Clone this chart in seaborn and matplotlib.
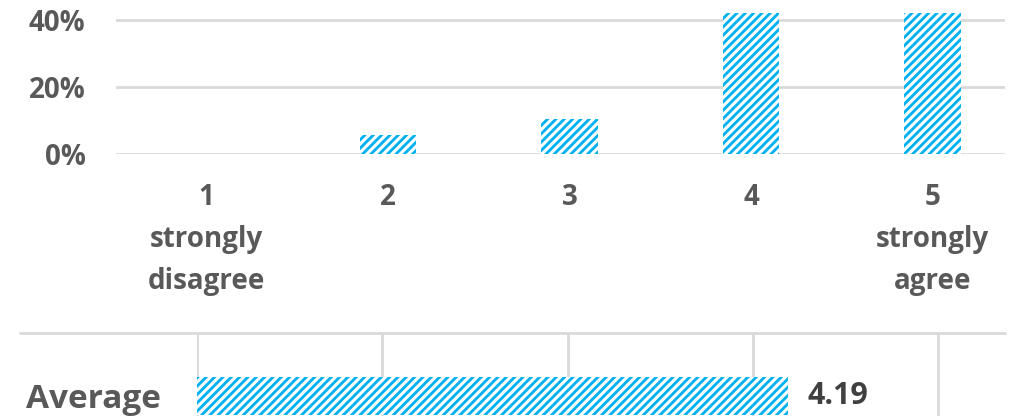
import matplotlib
matplotlib.use("Agg")
import matplotlib.pyplot as plt
import seaborn as sns
import pandas as pd
from matplotlib.lines import Line2D

# survey answers, share of respondents per score
scores = ["1\nstrongly\ndisagree", "2", "3", "4", "5\nstrongly\nagree"]
shares = [0.0, 5.8, 10.5, 42.2, 42.2]
avg_label = ["Average"]
avg_value = [4.19]
pct_ticks = [0, 20, 40]
avg_ticks = [1, 2, 3, 4, 5]

blue = "#00B0F0"
grid_c = "#D9D9D9"
text_c = "#595959"

sns.set_theme(style="white")
plt.rcParams["font.family"] = ["Open Sans", "DejaVu Sans"]
plt.rcParams["hatch.linewidth"] = 2.0

W, H = 1023, 416
fig = plt.figure(figsize=(W / 100, H / 100), dpi=100)

def box(x0, y0, x1, y1):
    # pixel box (top-left origin) -> figure fraction
    return [x0 / W, 1 - y1 / H, (x1 - x0) / W, (y1 - y0) / H]

# ---- distribution bars ----
ax = fig.add_axes(box(116, 3.25, 1005, 154))
df = pd.DataFrame({"score": scores, "share": shares})
sns.barplot(data=df, x="score", y="share", ax=ax, color="white", width=0.31,
            saturation=1)
for p in ax.patches:
    p.set_hatch("////")
    p.set_edgecolor(blue)
    p.set_linewidth(0)
    p.set_clip_on(False)
ax.set_ylim(0, 45)
ax.set_xlim(-0.5, 4.4)
ax.set_yticks(pct_ticks)
ax.set_yticklabels([f"{t}%" for t in pct_ticks], fontsize=20, fontweight="bold",
                   color=text_c)
for t in pct_ticks:
    ax.axhline(t, color=grid_c, lw=2, zorder=0)
ax.set_xticks(range(len(scores)))
ax.set_xticklabels(scores, fontsize=20, fontweight="bold", color=text_c,
                   linespacing=1.58)
ax.tick_params(axis="both", length=0)
ax.tick_params(axis="x", pad=21)
ax.tick_params(axis="y", pad=22)
ax.set_xlabel("")
ax.set_ylabel("")
sns.despine(ax=ax, left=True, bottom=True)

# ---- average bar ----
ax2 = fig.add_axes(box(197, 333, 1005, 416))
df2 = pd.DataFrame({"label": avg_label, "value": avg_value})
sns.barplot(data=df2, x="value", y="label", ax=ax2, color="white", width=0.5,
            saturation=1, orient="h")
for p in ax2.patches:
    p.set_hatch("////")
    p.set_edgecolor(blue)
    p.set_linewidth(0)
ax2.bar_label(ax2.containers[0], labels=[f"{v:.2f}" for v in avg_value],
              padding=14, fontsize=22, fontweight="bold", color="#404040")
ax2.set_xlim(1, 5.36)
ax2.set_ylim(0.27, -0.842)
ax2.set_xticks(avg_ticks)
ax2.set_xticklabels([])
for t in avg_ticks:
    ax2.axvline(t, color=grid_c, lw=2, zorder=0)
ax2.set_yticks([0])
ax2.set_yticklabels(avg_label, fontsize=24, fontweight="bold", color=text_c)
ax2.tick_params(axis="both", length=0)
ax2.tick_params(axis="y", pad=26)
ax2.set_xlabel("")
ax2.set_ylabel("")
sns.despine(ax=ax2, left=True, bottom=True)

# separator line between the two panels
fig.add_artist(Line2D([20 / W, 1005 / W], [1 - 333 / H, 1 - 333 / H],
                      color=grid_c, lw=2, transform=fig.transFigure))

fig.savefig("out.png", dpi=100)
